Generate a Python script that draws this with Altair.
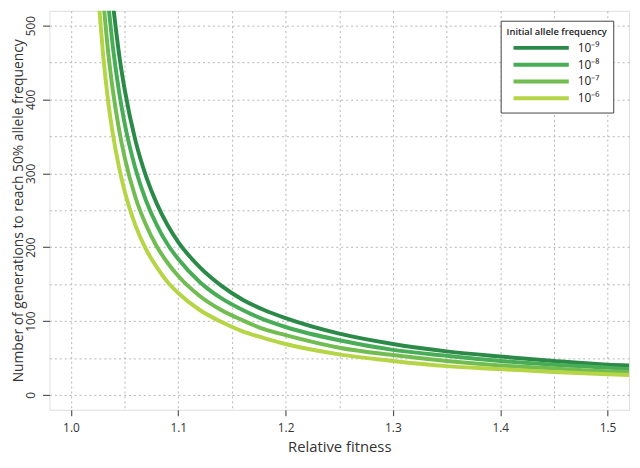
import altair as alt
import pandas as pd

# Relative fitness values (x) at which curves were read
fitness = [1.026, 1.03, 1.035, 1.039, 1.045, 1.05, 1.06, 1.07, 1.08, 1.09, 1.10,
           1.12, 1.14, 1.16, 1.18, 1.20, 1.25, 1.30, 1.35, 1.40, 1.45, 1.50, 1.52]

# Generations to reach 50% allele frequency, per initial frequency (None = off chart)
gen_1e9 = [None, None, None, 531, 460, 414, 345, 296, 259, 230, 207,
           173, 148, 129, 115, 104, 83, 69, 59, 52, 46, 41, 40]
gen_1e8 = [None, None, 526, 472, 409, 368, 307, 263, 230, 204, 184,
           153, 131, 115, 102, 92, 74, 61, 53, 46, 41, 37, 35]
gen_1e7 = [None, 537, 460, 413, 358, 322, 268, 230, 201, 179, 161,
           134, 115, 101, 89, 81, 64, 54, 46, 40, 36, 32, 31]
gen_1e6 = [531, 460, 394, 354, 307, 276, 230, 197, 173, 153, 138,
           115, 99, 86, 77, 69, 55, 46, 39, 35, 31, 28, 27]

labels = ["10⁻⁹", "10⁻⁸", "10⁻⁷", "10⁻⁶"]
colors = ["#2b8a48", "#48ad56", "#72bd52", "#b5d546"]
series = [gen_1e9, gen_1e8, gen_1e7, gen_1e6]

x_grid = [1.0, 1.05, 1.1, 1.15, 1.2, 1.25, 1.3, 1.35, 1.4, 1.45, 1.5]
y_grid = [0, 50, 100, 150, 200, 250, 300, 350, 400, 450, 500]

rows = []
for lab, vals in zip(labels, series):
    for xv, yv in zip(fitness, vals):
        if yv is not None:
            rows.append({"fitness": xv, "generations": yv, "freq": lab})
df = pd.DataFrame(rows)

FONT = "Open Sans"
H = 404

x_axis = alt.Axis(
    values=x_grid,
    title="Relative fitness",
    labelExpr="abs(datum.value*10 - round(datum.value*10)) < 0.001 ? format(datum.value, '.1f') : ''",
    tickOpacity={"condition": {"test": "abs(datum.value*10 - round(datum.value*10)) < 0.001", "value": 1}, "value": 0},
    grid=True, gridDash=[2, 3], gridColor="#b5b5b5", gridWidth=1,
    domain=False, ticks=True, tickSize=6, tickColor="#555", tickWidth=1.2,
    labelFont=FONT, labelFontSize=12, labelColor="#333", labelPadding=7,
    titleFont=FONT, titleFontSize=15, titleFontWeight="normal", titleColor="#333",
    titleY=45, titleBaseline="bottom",
)
y_axis = alt.Axis(
    values=y_grid,
    title="Number of generations to reach 50% allele frequency",
    labelExpr="datum.value % 100 === 0 ? datum.label : ''",
    tickOpacity={"condition": {"test": "datum.value % 100 === 0", "value": 1}, "value": 0},
    grid=True, gridDash=[2, 3], gridColor="#b5b5b5", gridWidth=1,
    domain=False, ticks=True, tickSize=7, tickColor="#555", tickWidth=1.2,
    labelAngle=-90, labelAlign="center", labelBaseline="bottom", labelPadding=5,
    labelFont=FONT, labelFontSize=12, labelColor="#333",
    titleFont=FONT, titleFontSize=14, titleFontWeight="normal", titleColor="#333",
    titleX=-38, titleY=H / 2, titleAlign="center", titleBaseline="top", titleAngle=-90,
)

chart = alt.Chart(df).mark_line(clip=True, strokeWidth=4, interpolate="monotone").encode(
    x=alt.X("fitness:Q", scale=alt.Scale(domain=[0.98, 1.52], nice=False, zero=False), axis=x_axis),
    y=alt.Y("generations:Q", scale=alt.Scale(domain=[-20, 520], nice=False, zero=False), axis=y_axis),
    color=alt.Color(
        "freq:N",
        scale=alt.Scale(domain=labels, range=colors),
        sort=labels,
        legend=alt.Legend(
            title="Initial allele frequency",
            orient="none", legendX=457, legendY=10,
            symbolType="M-5.6,0H5.6", symbolSize=100, symbolStrokeWidth=4,
            symbolOffset=28,
            labelFont=FONT, labelFontSize=12, labelColor="#222",
            titleFont=FONT, titleFontSize=9.5, titleFontWeight=600, titleColor="#222",
            strokeColor="#444", fillColor="white", padding=6,
            rowPadding=1, labelOffset=30, titlePadding=5,
        ),
    ),
    detail="freq:N",
).properties(
    width=587, height=H,
    autosize=alt.AutoSizeParams(type="none"),
    padding={"left": 42, "top": 0, "right": 3, "bottom": 46},
).configure_view(
    stroke="#555", strokeWidth=1.5
).configure(background="white")

chart.save("out.html", embed_options={"renderer": "svg", "actions": False})
